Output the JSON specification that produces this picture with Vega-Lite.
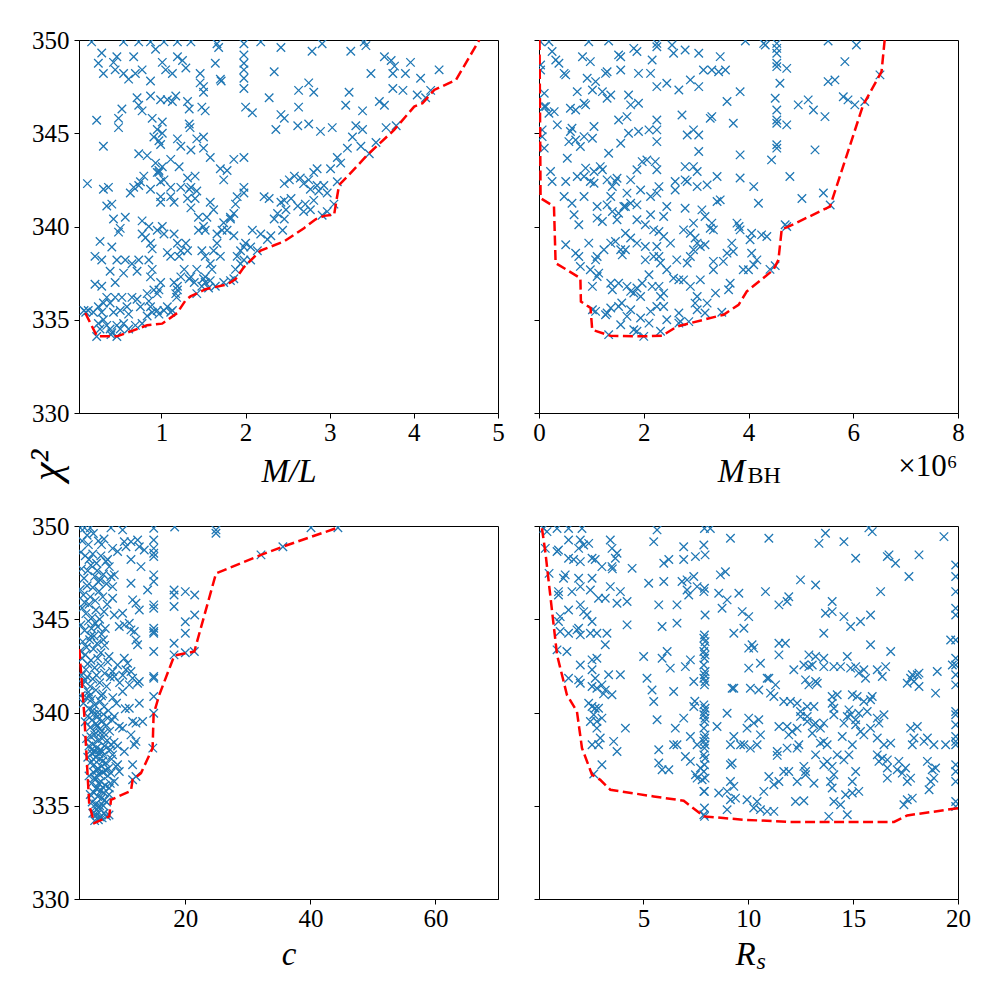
{
  "$schema": "https://vega.github.io/schema/vega-lite/v6.json",
  "padding": {"left": 24, "top": 27, "right": 10, "bottom": 10},
  "columns": 2,
  "spacing": {"row": 113, "column": 41},
  "bounds": "flush",
  "config": {
    "font": "'Liberation Serif', serif",
    "view": {"stroke": "black", "strokeWidth": 1},
    "axis": {
      "grid": false,
      "domainColor": "black",
      "domainWidth": 1,
      "tickColor": "black",
      "tickWidth": 1,
      "tickSize": 5,
      "labelFont": "'Liberation Serif', serif",
      "labelFontSize": 25,
      "labelColor": "black",
      "labelPadding": 5,
      "labelFlush": false,
      "labelOverlap": false,
      "titleFont": "'Liberation Serif', serif",
      "titleFontWeight": "normal",
      "titleColor": "black"
    },
    "axisX": {"labelPadding": 2}
  },
  "datasets": {
    "tl_pts": [
      {"ML":0.17,"chi2":349.9},{"ML":0.55,"chi2":349.9},{"ML":0.73,"chi2":349.9},{"ML":0.87,"chi2":349.9},{"ML":1.03,"chi2":349.9},{"ML":1.19,"chi2":349.9},{"ML":1.35,"chi2":349.9},{"ML":1.66,"chi2":349.8},{"ML":1.68,"chi2":349.6},{"ML":1.98,"chi2":349.8},{"ML":2.18,"chi2":349.9},{"ML":2.42,"chi2":349.6},{"ML":2.91,"chi2":349.8},{"ML":3.41,"chi2":349.9},{"ML":3.43,"chi2":349.7},
      {"ML":0.29,"chi2":349.3},{"ML":0.25,"chi2":348.75},{"ML":0.43,"chi2":348.8},{"ML":0.47,"chi2":349.1},{"ML":0.67,"chi2":349.1},{"ML":0.31,"chi2":348.2},{"ML":0.45,"chi2":348.4},{"ML":0.55,"chi2":348.2},{"ML":0.61,"chi2":347.9},{"ML":0.69,"chi2":348.2},{"ML":0.77,"chi2":348.4},{"ML":0.87,"chi2":347.8},{"ML":0.93,"chi2":349.5},{"ML":1.01,"chi2":348.8},{"ML":1.05,"chi2":348.4},{"ML":1.13,"chi2":348.2},{"ML":1.19,"chi2":349.1},{"ML":1.25,"chi2":348.9},{"ML":1.29,"chi2":348.5},{"ML":1.46,"chi2":348.2},{"ML":1.46,"chi2":347.7},{"ML":1.5,"chi2":347.2},{"ML":1.64,"chi2":348.75},{"ML":1.7,"chi2":347.9},{"ML":1.71,"chi2":347.8},
      {"ML":1.98,"chi2":349.2},{"ML":1.98,"chi2":348.75},{"ML":1.98,"chi2":348.4},{"ML":1.98,"chi2":347.95},{"ML":1.98,"chi2":347.4},{"ML":2.0,"chi2":346.4},{"ML":2.08,"chi2":346.1},{"ML":2.28,"chi2":346.9},{"ML":2.34,"chi2":348.3},{"ML":2.79,"chi2":349.4},{"ML":2.63,"chi2":347.3},{"ML":2.75,"chi2":347.7},{"ML":2.81,"chi2":347.2},{"ML":2.63,"chi2":346.4},{"ML":2.42,"chi2":346.0},{"ML":2.46,"chi2":345.8},{"ML":2.36,"chi2":345.2},{"ML":2.62,"chi2":345.4},{"ML":2.75,"chi2":345.5},{"ML":2.89,"chi2":345.1},{"ML":3.03,"chi2":345.3},{"ML":3.19,"chi2":346.5},{"ML":3.25,"chi2":349.4},{"ML":3.23,"chi2":347.2},{"ML":3.49,"chi2":348.2},{"ML":3.65,"chi2":349.1},{"ML":3.73,"chi2":348.9},{"ML":3.77,"chi2":348.6},{"ML":3.75,"chi2":348.2},{"ML":3.75,"chi2":347.4},{"ML":3.87,"chi2":347.3},{"ML":3.9,"chi2":348.2},{"ML":3.96,"chi2":348.8},{"ML":4.08,"chi2":347.95},{"ML":4.04,"chi2":347.05},{"ML":4.14,"chi2":346.9},{"ML":4.3,"chi2":348.4},{"ML":4.2,"chi2":347.3},
      {"ML":3.39,"chi2":346.2},{"ML":3.31,"chi2":345.4},{"ML":3.39,"chi2":345.2},{"ML":3.27,"chi2":344.8},{"ML":3.21,"chi2":344.2},{"ML":3.37,"chi2":344.3},{"ML":3.47,"chi2":343.9},{"ML":3.55,"chi2":344.5},{"ML":3.59,"chi2":346.7},{"ML":3.65,"chi2":346.5},{"ML":3.67,"chi2":345.3},{"ML":3.79,"chi2":345.4},
      {"ML":0.23,"chi2":345.7},{"ML":0.49,"chi2":345.8},{"ML":0.49,"chi2":345.3},{"ML":0.53,"chi2":346.3},{"ML":0.31,"chi2":344.3},{"ML":0.71,"chi2":346.9},{"ML":0.73,"chi2":346.5},{"ML":0.77,"chi2":346.2},{"ML":0.87,"chi2":347.0},{"ML":0.89,"chi2":345.8},{"ML":0.99,"chi2":346.8},{"ML":1.01,"chi2":345.6},{"ML":0.91,"chi2":344.8},{"ML":0.95,"chi2":345.2},{"ML":0.97,"chi2":344.6},{"ML":0.99,"chi2":344.4},{"ML":1.01,"chi2":345.0},{"ML":1.07,"chi2":346.8},{"ML":1.13,"chi2":346.7},{"ML":1.17,"chi2":347.0},{"ML":1.19,"chi2":344.7},{"ML":1.23,"chi2":344.3},{"ML":1.31,"chi2":346.7},{"ML":1.33,"chi2":346.3},{"ML":1.33,"chi2":345.5},{"ML":1.34,"chi2":345.3},{"ML":1.35,"chi2":344.1},{"ML":1.42,"chi2":344.7},{"ML":1.5,"chi2":344.8},{"ML":1.5,"chi2":344.2},{"ML":1.48,"chi2":346.4},{"ML":1.52,"chi2":346.2},{"ML":1.58,"chi2":343.7},{"ML":1.5,"chi2":347.5},{"ML":1.21,"chi2":343.2},{"ML":1.11,"chi2":343.6},{"ML":0.97,"chi2":343.0},{"ML":1.01,"chi2":343.2},{"ML":0.97,"chi2":342.9},{"ML":0.73,"chi2":343.9},{"ML":0.83,"chi2":343.8},{"ML":0.79,"chi2":342.7},{"ML":0.75,"chi2":342.4},{"ML":0.73,"chi2":342.2},{"ML":0.63,"chi2":341.8},{"ML":0.67,"chi2":342.1},{"ML":0.57,"chi2":340.5},{"ML":0.41,"chi2":341.2},{"ML":0.43,"chi2":340.4},{"ML":0.35,"chi2":341.1},{"ML":0.31,"chi2":342.0},{"ML":0.37,"chi2":342.1},{"ML":0.49,"chi2":339.7},{"ML":0.51,"chi2":339.9},{"ML":0.41,"chi2":338.9},{"ML":0.27,"chi2":339.2},{"ML":0.12,"chi2":342.3},{"ML":0.21,"chi2":338.4},{"ML":0.29,"chi2":338.2},{"ML":0.21,"chi2":336.9},{"ML":0.29,"chi2":336.8},{"ML":0.39,"chi2":337.6},{"ML":0.45,"chi2":337.0},{"ML":0.55,"chi2":337.5},{"ML":0.47,"chi2":338.2},{"ML":0.57,"chi2":338.2},{"ML":0.65,"chi2":338.0},{"ML":0.73,"chi2":338.2},{"ML":0.71,"chi2":337.6},{"ML":0.77,"chi2":339.6},{"ML":0.81,"chi2":339.4},{"ML":0.77,"chi2":340.3},{"ML":0.85,"chi2":340.0},{"ML":0.87,"chi2":339.1},{"ML":0.89,"chi2":338.8},{"ML":0.85,"chi2":338.2},{"ML":0.89,"chi2":337.7},{"ML":0.87,"chi2":337.3},{"ML":0.95,"chi2":339.8},{"ML":1.01,"chi2":340.0},{"ML":1.03,"chi2":339.6},{"ML":0.97,"chi2":336.6},{"ML":0.99,"chi2":337.0},{"ML":1.07,"chi2":338.6},{"ML":1.11,"chi2":338.4},{"ML":1.15,"chi2":339.6},{"ML":1.19,"chi2":339.1},{"ML":1.21,"chi2":338.4},{"ML":1.23,"chi2":338.7},{"ML":1.19,"chi2":336.8},{"ML":1.17,"chi2":336.4},{"ML":1.18,"chi2":336.2},{"ML":1.29,"chi2":339.1},{"ML":1.31,"chi2":338.7},{"ML":1.35,"chi2":337.3},{"ML":1.42,"chi2":337.7},{"ML":1.44,"chi2":339.8},{"ML":1.48,"chi2":338.7},{"ML":1.5,"chi2":340.0},{"ML":1.52,"chi2":338.4},{"ML":1.58,"chi2":338.0},{"ML":1.6,"chi2":337.7},{"ML":1.5,"chi2":337.2},{"ML":1.52,"chi2":337.0},{"ML":1.58,"chi2":337.1},{"ML":1.62,"chi2":338.7},{"ML":1.66,"chi2":339.1},{"ML":1.7,"chi2":338.4},{"ML":1.74,"chi2":340.2},{"ML":1.78,"chi2":339.8},{"ML":1.82,"chi2":340.4},{"ML":1.86,"chi2":340.7},{"ML":1.86,"chi2":339.5},{"ML":1.9,"chi2":338.4},{"ML":1.94,"chi2":338.7},{"ML":1.98,"chi2":338.9},{"ML":2.0,"chi2":339.1},{"ML":2.06,"chi2":338.9},{"ML":2.08,"chi2":339.8},{"ML":2.18,"chi2":339.6},{"ML":2.22,"chi2":341.6},{"ML":2.28,"chi2":341.5},{"ML":2.26,"chi2":339.3},{"ML":2.3,"chi2":339.5},{"ML":2.34,"chi2":340.4},{"ML":2.38,"chi2":340.7},{"ML":2.42,"chi2":341.3},{"ML":2.46,"chi2":341.4},{"ML":2.46,"chi2":342.3},{"ML":2.52,"chi2":342.5},{"ML":2.48,"chi2":340.9},{"ML":2.46,"chi2":340.4},{"ML":2.44,"chi2":339.8},{"ML":2.54,"chi2":341.5},{"ML":2.58,"chi2":342.7},{"ML":2.65,"chi2":342.6},{"ML":2.69,"chi2":342.3},{"ML":2.75,"chi2":342.5},{"ML":2.77,"chi2":342.0},{"ML":2.81,"chi2":342.9},{"ML":2.85,"chi2":343.1},{"ML":2.71,"chi2":341.2},{"ML":2.69,"chi2":340.8},{"ML":2.77,"chi2":340.9},{"ML":2.85,"chi2":342.2},{"ML":2.87,"chi2":341.9},{"ML":2.93,"chi2":342.2},{"ML":2.97,"chi2":341.8},{"ML":3.01,"chi2":343.1},{"ML":3.09,"chi2":343.7},{"ML":3.13,"chi2":343.4},{"ML":3.09,"chi2":342.4},{"ML":3.05,"chi2":341.2},{"ML":2.97,"chi2":340.8},{"ML":2.91,"chi2":340.6},{"ML":2.81,"chi2":341.4},{"ML":2.62,"chi2":341.1},
      {"ML":1.7,"chi2":343.1},{"ML":1.78,"chi2":343.0},{"ML":1.74,"chi2":342.5},{"ML":1.86,"chi2":343.6},{"ML":1.98,"chi2":343.7},{"ML":1.98,"chi2":342.1},{"ML":1.98,"chi2":341.8},{"ML":1.9,"chi2":341.6},{"ML":1.88,"chi2":341.2},{"ML":1.82,"chi2":340.5},{"ML":1.72,"chi2":339.8},{"ML":1.66,"chi2":339.6},{"ML":1.54,"chi2":340.5},{"ML":1.52,"chi2":339.8},{"ML":1.58,"chi2":341.3},{"ML":1.62,"chi2":340.9},{"ML":1.35,"chi2":342.1},{"ML":1.33,"chi2":342.0},{"ML":1.31,"chi2":341.5},{"ML":1.35,"chi2":341.0},{"ML":1.4,"chi2":341.5},{"ML":1.44,"chi2":340.5},{"ML":0.99,"chi2":341.6},{"ML":0.99,"chi2":341.3},{"ML":1.11,"chi2":341.6},{"ML":1.15,"chi2":341.3},{"ML":0.99,"chi2":342.4},{"ML":1.03,"chi2":342.5},{"ML":1.11,"chi2":342.1},{"ML":0.93,"chi2":343.4},{"ML":0.95,"chi2":342.9},{"ML":1.31,"chi2":342.6},{"ML":1.4,"chi2":342.7},{"ML":1.42,"chi2":341.9},{"ML":1.23,"chi2":342.1},{"ML":0.87,"chi2":342.0},
      {"ML":0.08,"chi2":335.5},{"ML":0.13,"chi2":335.5},{"ML":0.19,"chi2":335.4},{"ML":0.25,"chi2":335.7},{"ML":0.29,"chi2":335.4},{"ML":0.31,"chi2":335.0},{"ML":0.25,"chi2":334.8},{"ML":0.27,"chi2":334.5},{"ML":0.35,"chi2":334.7},{"ML":0.39,"chi2":334.5},{"ML":0.41,"chi2":334.3},{"ML":0.47,"chi2":334.7},{"ML":0.51,"chi2":334.5},{"ML":0.55,"chi2":334.8},{"ML":0.61,"chi2":334.5},{"ML":0.69,"chi2":334.7},{"ML":0.77,"chi2":334.8},{"ML":0.83,"chi2":335.2},{"ML":0.89,"chi2":335.4},{"ML":0.95,"chi2":335.5},{"ML":0.97,"chi2":335.3},{"ML":1.03,"chi2":335.5},{"ML":1.07,"chi2":335.7},{"ML":1.11,"chi2":335.4},{"ML":1.13,"chi2":335.5},{"ML":0.61,"chi2":335.3},{"ML":0.59,"chi2":335.7},{"ML":0.51,"chi2":335.5},{"ML":0.43,"chi2":335.4},{"ML":0.39,"chi2":335.9},{"ML":0.45,"chi2":336.2},{"ML":0.31,"chi2":335.9},{"ML":0.35,"chi2":336.2},{"ML":0.53,"chi2":336.2},{"ML":0.65,"chi2":336.2},{"ML":0.71,"chi2":336.1},{"ML":0.75,"chi2":335.7},{"ML":0.83,"chi2":336.4},{"ML":0.91,"chi2":336.6},{"ML":0.95,"chi2":336.4},{"ML":0.85,"chi2":336.0},{"ML":0.87,"chi2":335.7},{"ML":1.15,"chi2":337.0},{"ML":1.19,"chi2":336.6},{"ML":1.23,"chi2":337.3},{"ML":1.27,"chi2":337.7},{"ML":1.33,"chi2":337.2},{"ML":1.39,"chi2":337.0},{"ML":1.42,"chi2":336.4},{"ML":1.48,"chi2":336.8},{"ML":1.52,"chi2":337.3},{"ML":1.56,"chi2":336.7},{"ML":1.64,"chi2":336.8},{"ML":1.74,"chi2":337.0},{"ML":1.82,"chi2":337.1},{"ML":1.86,"chi2":337.2},{"ML":1.88,"chi2":337.7},{"ML":1.94,"chi2":338.0},{"ML":1.98,"chi2":338.2},{"ML":2.06,"chi2":338.2},{"ML":2.14,"chi2":338.7},{"ML":0.23,"chi2":334.1},{"ML":0.4,"chi2":334.2},{"ML":0.47,"chi2":334.1},{"ML":0.1,"chi2":335.4}
    ],
    "tl_line": [
      {"ML":0.095,"chi2":335.36},{"ML":0.234,"chi2":334.11},{"ML":0.472,"chi2":334.11},{"ML":0.829,"chi2":334.7},{"ML":1.008,"chi2":334.79},{"ML":1.187,"chi2":335.36},{"ML":1.286,"chi2":336.04},{"ML":1.345,"chi2":336.25},{"ML":1.524,"chi2":336.64},{"ML":1.782,"chi2":336.89},{"ML":1.881,"chi2":337.18},{"ML":1.98,"chi2":337.82},{"ML":2.179,"chi2":338.71},{"ML":2.456,"chi2":339.2},{"ML":2.694,"chi2":339.91},{"ML":2.833,"chi2":340.39},{"ML":2.933,"chi2":340.57},{"ML":3.052,"chi2":340.63},{"ML":3.111,"chi2":342.23},{"ML":3.21,"chi2":342.68},{"ML":3.448,"chi2":343.84},{"ML":3.766,"chi2":345.18},{"ML":4.004,"chi2":346.43},{"ML":4.103,"chi2":346.61},{"ML":4.242,"chi2":347.32},{"ML":4.5,"chi2":347.86},{"ML":4.778,"chi2":350.0}
    ],
    "tr_pts": [
      {"MBH":0.03,"chi2":349.91},{"MBH":0.19,"chi2":349.91},{"MBH":0.95,"chi2":349.91},{"MBH":1.33,"chi2":349.95},{"MBH":2.25,"chi2":349.82},{"MBH":2.25,"chi2":349.64},{"MBH":2.54,"chi2":349.73},{"MBH":2.57,"chi2":349.29},{"MBH":2.79,"chi2":349.46},{"MBH":3.05,"chi2":349.29},{"MBH":3.94,"chi2":349.95},{"MBH":4.29,"chi2":349.82},{"MBH":4.32,"chi2":349.73},{"MBH":4.54,"chi2":349.82},{"MBH":4.54,"chi2":349.55},{"MBH":4.54,"chi2":349.29},{"MBH":5.52,"chi2":349.95},{"MBH":6.06,"chi2":349.73},{"MBH":1.81,"chi2":349.55},{"MBH":1.87,"chi2":349.38},{"MBH":1.52,"chi2":349.2},{"MBH":1.56,"chi2":349.1},{"MBH":0.83,"chi2":349.1},{"MBH":0.98,"chi2":348.84},{"MBH":0.25,"chi2":349.38},{"MBH":0.32,"chi2":348.93},{"MBH":0.38,"chi2":348.75},{"MBH":0.03,"chi2":348.66},{"MBH":0.03,"chi2":348.39},{"MBH":0.48,"chi2":348.21},{"MBH":0.51,"chi2":348.13},{"MBH":0.92,"chi2":347.95},{"MBH":1.08,"chi2":347.77},{"MBH":1.27,"chi2":348.21},{"MBH":1.3,"chi2":348.3},{"MBH":1.56,"chi2":348.39},{"MBH":1.9,"chi2":348.21},{"MBH":2.13,"chi2":348.21},{"MBH":2.16,"chi2":348.93},{"MBH":2.25,"chi2":347.5},{"MBH":2.44,"chi2":347.68},{"MBH":2.67,"chi2":347.32},{"MBH":2.89,"chi2":347.86},{"MBH":3.05,"chi2":347.5},{"MBH":3.14,"chi2":348.39},{"MBH":3.3,"chi2":348.39},{"MBH":3.43,"chi2":348.3},{"MBH":3.56,"chi2":348.39},{"MBH":3.46,"chi2":349.11},{"MBH":3.84,"chi2":347.23},{"MBH":3.59,"chi2":346.7},
      {"MBH":4.54,"chi2":348.75},{"MBH":4.54,"chi2":348.57},{"MBH":4.73,"chi2":348.48},{"MBH":4.6,"chi2":347.68},{"MBH":4.51,"chi2":346.88},{"MBH":4.54,"chi2":346.25},{"MBH":4.54,"chi2":345.71},{"MBH":4.54,"chi2":345.54},{"MBH":4.73,"chi2":345.45},{"MBH":4.54,"chi2":344.38},{"MBH":4.54,"chi2":344.2},{"MBH":4.44,"chi2":343.57},{"MBH":4.95,"chi2":346.52},{"MBH":5.14,"chi2":346.79},{"MBH":5.24,"chi2":346.25},{"MBH":5.46,"chi2":345.89},{"MBH":5.27,"chi2":344.11},{"MBH":5.52,"chi2":347.77},{"MBH":5.65,"chi2":347.86},{"MBH":5.84,"chi2":348.84},{"MBH":5.81,"chi2":346.96},{"MBH":5.9,"chi2":346.79},{"MBH":6.03,"chi2":346.52},{"MBH":6.22,"chi2":346.7},{"MBH":6.51,"chi2":348.13},
      {"MBH":3.84,"chi2":343.84},{"MBH":3.71,"chi2":345.54},{"MBH":3.27,"chi2":345.8},{"MBH":3.3,"chi2":345.89},{"MBH":2.73,"chi2":345.98},{"MBH":2.83,"chi2":344.91},{"MBH":2.95,"chi2":345.18},{"MBH":3.05,"chi2":344.91},{"MBH":3.05,"chi2":344.02},{"MBH":2.79,"chi2":343.21},{"MBH":2.95,"chi2":343.21},{"MBH":3.02,"chi2":342.95},{"MBH":2.25,"chi2":345.71},{"MBH":2.25,"chi2":345.18},{"MBH":2.25,"chi2":344.55},{"MBH":2.1,"chi2":345.18},{"MBH":1.9,"chi2":345.09},{"MBH":1.71,"chi2":345.0},{"MBH":1.68,"chi2":345.89},{"MBH":1.75,"chi2":346.52},{"MBH":1.52,"chi2":345.71},{"MBH":1.56,"chi2":344.46},{"MBH":1.33,"chi2":343.93},{"MBH":1.71,"chi2":347.05},{"MBH":1.9,"chi2":346.61},{"MBH":1.37,"chi2":347.05},{"MBH":1.3,"chi2":346.88},{"MBH":1.21,"chi2":347.23},{"MBH":1.02,"chi2":347.32},{"MBH":0.73,"chi2":347.23},{"MBH":0.86,"chi2":346.61},{"MBH":0.89,"chi2":346.52},{"MBH":0.6,"chi2":346.34},{"MBH":0.7,"chi2":346.25},{"MBH":0.13,"chi2":346.43},{"MBH":0.19,"chi2":346.07},{"MBH":0.1,"chi2":347.14},{"MBH":0.1,"chi2":346.43},{"MBH":0.29,"chi2":346.16},{"MBH":0.35,"chi2":345.45},{"MBH":0.63,"chi2":345.27},{"MBH":0.6,"chi2":345.09},{"MBH":0.7,"chi2":344.64},{"MBH":0.79,"chi2":344.29},{"MBH":0.86,"chi2":344.82},{"MBH":1.02,"chi2":344.73},{"MBH":1.05,"chi2":345.36},{"MBH":0.57,"chi2":344.55},{"MBH":0.54,"chi2":343.66},{"MBH":0.06,"chi2":345.18},{"MBH":0.06,"chi2":344.82},{"MBH":0.1,"chi2":344.2},
      {"MBH":0.22,"chi2":342.95},{"MBH":0.25,"chi2":342.41},{"MBH":0.51,"chi2":342.41},{"MBH":0.73,"chi2":342.68},{"MBH":0.86,"chi2":342.68},{"MBH":0.89,"chi2":343.13},{"MBH":1.05,"chi2":342.95},{"MBH":1.17,"chi2":343.21},{"MBH":1.21,"chi2":343.04},{"MBH":0.98,"chi2":342.41},{"MBH":0.86,"chi2":341.61},{"MBH":0.63,"chi2":341.25},{"MBH":0.67,"chi2":340.63},{"MBH":0.76,"chi2":340.09},{"MBH":0.48,"chi2":341.61},{"MBH":1.05,"chi2":342.32},{"MBH":1.3,"chi2":342.5},{"MBH":1.4,"chi2":342.14},{"MBH":1.46,"chi2":342.41},{"MBH":1.49,"chi2":342.59},{"MBH":1.68,"chi2":341.79},{"MBH":1.75,"chi2":342.5},{"MBH":1.87,"chi2":343.04},{"MBH":1.97,"chi2":343.48},{"MBH":2.06,"chi2":343.57},{"MBH":2.22,"chi2":343.48},{"MBH":2.25,"chi2":343.04},{"MBH":2.29,"chi2":342.14},{"MBH":2.25,"chi2":341.79},{"MBH":2.13,"chi2":341.61},{"MBH":1.94,"chi2":341.96},{"MBH":1.75,"chi2":341.25},{"MBH":1.65,"chi2":341.07},{"MBH":1.49,"chi2":340.36},{"MBH":1.37,"chi2":341.61},{"MBH":1.3,"chi2":341.16},{"MBH":1.11,"chi2":341.07},{"MBH":1.11,"chi2":340.45},{"MBH":1.21,"chi2":340.27},{"MBH":1.4,"chi2":340.8},{"MBH":1.52,"chi2":340.71},{"MBH":1.62,"chi2":341.07},{"MBH":1.87,"chi2":341.16},{"MBH":1.87,"chi2":340.36},{"MBH":2.03,"chi2":340.09},{"MBH":2.13,"chi2":340.63},{"MBH":2.19,"chi2":339.82},{"MBH":2.29,"chi2":339.73},{"MBH":2.38,"chi2":340.54},{"MBH":2.44,"chi2":341.07},{"MBH":2.6,"chi2":341.96},{"MBH":2.6,"chi2":342.41},{"MBH":2.79,"chi2":342.5},{"MBH":2.83,"chi2":342.41},{"MBH":3.02,"chi2":342.14},{"MBH":3.21,"chi2":342.23},{"MBH":3.4,"chi2":342.68},{"MBH":3.4,"chi2":341.34},{"MBH":3.46,"chi2":341.43},{"MBH":3.17,"chi2":340.54},{"MBH":3.11,"chi2":340.89},{"MBH":2.95,"chi2":340.18},{"MBH":2.79,"chi2":340.98},{"MBH":2.76,"chi2":339.82},{"MBH":2.89,"chi2":339.64},{"MBH":2.98,"chi2":339.38},{"MBH":3.02,"chi2":339.11},{"MBH":3.08,"chi2":338.93},{"MBH":3.17,"chi2":339.02},{"MBH":3.27,"chi2":339.91},{"MBH":3.3,"chi2":340.18},{"MBH":3.33,"chi2":339.82},{"MBH":2.95,"chi2":338.75},{"MBH":2.89,"chi2":338.39},{"MBH":2.83,"chi2":338.04},{"MBH":2.63,"chi2":338.21},{"MBH":2.51,"chi2":339.11},{"MBH":2.38,"chi2":339.46},{"MBH":2.25,"chi2":338.93},{"MBH":2.29,"chi2":338.39},{"MBH":2.32,"chi2":338.04},{"MBH":2.19,"chi2":338.39},{"MBH":2.03,"chi2":338.21},{"MBH":2.03,"chi2":338.93},{"MBH":1.87,"chi2":339.11},{"MBH":1.75,"chi2":339.38},{"MBH":1.65,"chi2":339.64},{"MBH":1.65,"chi2":338.75},{"MBH":1.59,"chi2":338.48},{"MBH":1.56,"chi2":338.75},{"MBH":1.46,"chi2":339.2},{"MBH":1.37,"chi2":339.11},{"MBH":1.24,"chi2":338.75},{"MBH":1.11,"chi2":338.39},{"MBH":1.08,"chi2":338.21},{"MBH":0.95,"chi2":339.11},{"MBH":0.76,"chi2":338.39},{"MBH":0.7,"chi2":338.57},{"MBH":0.51,"chi2":339.02},
      {"MBH":0.79,"chi2":337.86},{"MBH":0.98,"chi2":337.68},{"MBH":1.02,"chi2":336.79},{"MBH":1.11,"chi2":337.32},{"MBH":1.14,"chi2":337.5},{"MBH":1.37,"chi2":336.96},{"MBH":1.4,"chi2":336.61},{"MBH":1.52,"chi2":336.96},{"MBH":1.68,"chi2":336.79},{"MBH":1.75,"chi2":336.52},{"MBH":1.87,"chi2":336.7},{"MBH":1.81,"chi2":336.43},{"MBH":1.94,"chi2":336.25},{"MBH":1.97,"chi2":336.96},{"MBH":2.1,"chi2":337.41},{"MBH":2.16,"chi2":336.79},{"MBH":2.29,"chi2":336.79},{"MBH":2.32,"chi2":336.25},{"MBH":2.38,"chi2":336.43},{"MBH":2.44,"chi2":337.68},{"MBH":2.57,"chi2":337.23},{"MBH":2.67,"chi2":337.14},{"MBH":2.76,"chi2":337.14},{"MBH":2.89,"chi2":336.79},{"MBH":3.02,"chi2":336.25},{"MBH":2.98,"chi2":335.89},{"MBH":3.08,"chi2":337.14},{"MBH":3.33,"chi2":338.13},{"MBH":3.33,"chi2":337.68},{"MBH":3.52,"chi2":338.13},{"MBH":3.59,"chi2":338.57},{"MBH":3.71,"chi2":338.66},{"MBH":3.68,"chi2":339.11},{"MBH":3.78,"chi2":340.18},{"MBH":3.82,"chi2":340.0},{"MBH":3.84,"chi2":339.82},{"MBH":4.03,"chi2":339.29},{"MBH":4.06,"chi2":339.64},{"MBH":4.06,"chi2":338.57},{"MBH":4.16,"chi2":338.21},{"MBH":4.25,"chi2":339.55},{"MBH":4.35,"chi2":339.46},{"MBH":3.9,"chi2":337.68},{"MBH":4.0,"chi2":337.68},{"MBH":3.65,"chi2":336.96},{"MBH":3.62,"chi2":336.61},{"MBH":3.37,"chi2":336.43},{"MBH":3.02,"chi2":335.54},{"MBH":2.67,"chi2":335.36},{"MBH":2.67,"chi2":334.82},{"MBH":2.44,"chi2":335.0},{"MBH":2.32,"chi2":334.38},{"MBH":2.1,"chi2":334.82},{"MBH":2.0,"chi2":334.11},{"MBH":1.81,"chi2":334.46},{"MBH":1.87,"chi2":334.38},{"MBH":1.68,"chi2":335.18},{"MBH":1.56,"chi2":334.73},{"MBH":1.52,"chi2":335.71},{"MBH":1.37,"chi2":335.63},{"MBH":1.3,"chi2":335.36},{"MBH":1.27,"chi2":335.27},{"MBH":1.08,"chi2":335.45},{"MBH":1.02,"chi2":335.54},{"MBH":1.33,"chi2":334.2},{"MBH":1.58,"chi2":335.9},{"MBH":1.75,"chi2":335.54},{"MBH":2.13,"chi2":335.45},{"MBH":1.94,"chi2":335.09},{"MBH":2.25,"chi2":335.71},{"MBH":2.38,"chi2":335.71},{"MBH":2.7,"chi2":334.91},{"MBH":2.86,"chi2":334.9},{"MBH":3.17,"chi2":335.36},{"MBH":3.21,"chi2":335.89},{"MBH":3.49,"chi2":335.4},{"MBH":4.51,"chi2":337.9},{"MBH":4.41,"chi2":337.7},{"MBH":4.73,"chi2":340.0},{"MBH":4.7,"chi2":340.09},{"MBH":4.1,"chi2":337.95},{"MBH":5.02,"chi2":341.5},{"MBH":5.43,"chi2":341.8},{"MBH":5.56,"chi2":341.15},{"MBH":4.19,"chi2":341.25},{"MBH":4.1,"chi2":342.14},{"MBH":3.84,"chi2":342.6},{"MBH":4.79,"chi2":342.68}
    ],
    "tr_line": [
      {"MBH":0.01,"chi2":350},{"MBH":0.03,"chi2":341.52},{"MBH":0.286,"chi2":341.07},{"MBH":0.317,"chi2":338.04},{"MBH":0.79,"chi2":337.23},{"MBH":0.8,"chi2":335.98},{"MBH":0.984,"chi2":335.63},{"MBH":1.016,"chi2":334.46},{"MBH":1.365,"chi2":334.14},{"MBH":2.0,"chi2":334.11},{"MBH":2.349,"chi2":334.14},{"MBH":2.635,"chi2":334.64},{"MBH":3.524,"chi2":335.27},{"MBH":3.81,"chi2":335.8},{"MBH":3.968,"chi2":336.52},{"MBH":4.476,"chi2":337.68},{"MBH":4.571,"chi2":338.21},{"MBH":4.635,"chi2":339.87},{"MBH":4.73,"chi2":339.95},{"MBH":5.556,"chi2":341.07},{"MBH":6.19,"chi2":346.52},{"MBH":6.54,"chi2":348.3},{"MBH":6.6,"chi2":350}
    ],
    "bl_pts": [
      {"c":14.95,"chi2":349.88},{"c":14.95,"chi2":349.25},{"c":14.95,"chi2":348.8},{"c":14.95,"chi2":348.54},{"c":14.95,"chi2":348.36},{"c":14.95,"chi2":347.38},{"c":14.95,"chi2":347.02},{"c":14.95,"chi2":345.77},{"c":14.95,"chi2":345.59},{"c":14.95,"chi2":344.52},{"c":14.95,"chi2":344.34},{"c":14.95,"chi2":344.25},{"c":14.95,"chi2":343.27},{"c":14.95,"chi2":341.93},{"c":14.95,"chi2":341.84},{"c":14.95,"chi2":340.86},{"c":14.95,"chi2":339.96},{"c":14.8,"chi2":338.09},
      {"c":18.2,"chi2":346.57},{"c":18.2,"chi2":346.3},{"c":18.2,"chi2":345.68},{"c":18.2,"chi2":343.71},{"c":18.2,"chi2":343.09},{"c":18.3,"chi2":349.95},{"c":20.0,"chi2":346.48},{"c":20.0,"chi2":344.87},{"c":20.0,"chi2":344.25},{"c":20.0,"chi2":343.2},{"c":21.44,"chi2":343.27},{"c":21.5,"chi2":346.3},{"c":21.5,"chi2":345.23},{"c":24.9,"chi2":349.79},{"c":24.9,"chi2":349.61},{"c":32.1,"chi2":348.45},{"c":35.6,"chi2":348.89},{"c":40.1,"chi2":349.91},{"c":44.4,"chi2":349.91},
      {"c":8.11,"chi2":349.9},{"c":9.97,"chi2":349.79},{"c":10.24,"chi2":349.16},{"c":10.51,"chi2":348.89},{"c":11.31,"chi2":349.16},{"c":12.37,"chi2":349.25},{"c":12.64,"chi2":348.89},{"c":13.44,"chi2":348.71},{"c":11.31,"chi2":348.2},{"c":12.91,"chi2":347.82},{"c":13.97,"chi2":346.57},{"c":11.31,"chi2":346.93},{"c":11.57,"chi2":346.04},{"c":12.11,"chi2":345.86},{"c":12.64,"chi2":345.5},{"c":9.97,"chi2":345.32},{"c":10.24,"chi2":344.7},{"c":11.04,"chi2":344.79},{"c":11.31,"chi2":344.43},{"c":11.84,"chi2":344.34},{"c":12.11,"chi2":343.89},{"c":12.37,"chi2":343.63},{"c":9.44,"chi2":344.61},{"c":8.64,"chi2":345.23},{"c":8.37,"chi2":346.13},{"c":8.37,"chi2":346.75},{"c":8.11,"chi2":347.29},{"c":8.64,"chi2":347.38},{"c":7.84,"chi2":347.82},{"c":7.57,"chi2":348.2},{"c":8.37,"chi2":348.8},{"c":9.17,"chi2":348.63},{"c":10.24,"chi2":342.91},{"c":10.77,"chi2":342.64},{"c":11.31,"chi2":342.2},{"c":11.57,"chi2":341.84},{"c":12.37,"chi2":341.57},{"c":12.64,"chi2":341.66},{"c":11.04,"chi2":341.48},{"c":9.97,"chi2":341.13},{"c":10.51,"chi2":342.29},{"c":9.17,"chi2":342.55},{"c":8.64,"chi2":341.93},{"c":8.37,"chi2":342.2},{"c":11.04,"chi2":340.23},{"c":11.57,"chi2":339.52},{"c":12.11,"chi2":339.43},{"c":12.64,"chi2":340.5},{"c":13.17,"chi2":339.52},{"c":11.31,"chi2":338.8},{"c":12.11,"chi2":338.45},{"c":11.84,"chi2":338.27},{"c":10.24,"chi2":337.91},{"c":11.57,"chi2":337.2},{"c":9.17,"chi2":337.2},{"c":9.44,"chi2":336.84},{"c":8.91,"chi2":337.11},{"c":9.44,"chi2":339.25},{"c":8.64,"chi2":339.79},{"c":9.97,"chi2":339.16},{"c":9.17,"chi2":338.2},{"c":8.11,"chi2":338.27},{"c":8.37,"chi2":337.73},{"c":8.64,"chi2":336.3},{"c":8.11,"chi2":336.75},{"c":7.84,"chi2":335.95},{"c":11.57,"chi2":336.39},{"c":12.11,"chi2":336.57},
      {"c":3.2,"chi2":349.9},{"c":3.5,"chi2":349.2},{"c":3.9,"chi2":349.9},{"c":4.3,"chi2":349.5},{"c":4.8,"chi2":349.9},{"c":5.3,"chi2":349.6},{"c":6.1,"chi2":349.2},{"c":6.6,"chi2":349.0},{"c":7.0,"chi2":349.3},{"c":3.3,"chi2":348.6},{"c":4.0,"chi2":348.4},{"c":4.6,"chi2":348.2},{"c":5.2,"chi2":348.5},{"c":5.8,"chi2":348.0},{"c":6.5,"chi2":348.4},{"c":7.3,"chi2":348.1},{"c":3.4,"chi2":347.7},{"c":3.8,"chi2":347.2},{"c":4.4,"chi2":347.6},{"c":4.9,"chi2":347.9},{"c":5.5,"chi2":347.3},{"c":5.9,"chi2":347.6},{"c":6.4,"chi2":347.1},{"c":6.9,"chi2":347.4},{"c":7.4,"chi2":346.9},{"c":3.2,"chi2":346.6},{"c":3.7,"chi2":346.3},{"c":4.3,"chi2":346.8},{"c":4.8,"chi2":346.2},{"c":5.2,"chi2":346.7},{"c":5.6,"chi2":346.0},{"c":6.2,"chi2":346.5},{"c":6.8,"chi2":346.2},{"c":7.5,"chi2":345.8},{"c":3.5,"chi2":345.6},{"c":4.1,"chi2":345.3},{"c":4.6,"chi2":345.8},{"c":5.1,"chi2":345.1},{"c":5.7,"chi2":345.5},{"c":6.3,"chi2":345.0},{"c":7.0,"chi2":345.4},{"c":3.3,"chi2":344.7},{"c":3.9,"chi2":344.4},{"c":4.5,"chi2":344.9},{"c":5.0,"chi2":344.5},{"c":5.4,"chi2":344.1},{"c":6.0,"chi2":344.6},{"c":6.6,"chi2":344.2},{"c":7.2,"chi2":344.5},{"c":3.6,"chi2":343.8},{"c":4.2,"chi2":343.5},{"c":4.7,"chi2":343.9},{"c":5.3,"chi2":343.4},{"c":5.9,"chi2":343.7},{"c":6.5,"chi2":343.2},{"c":7.1,"chi2":343.6},{"c":7.8,"chi2":343.0},
      {"c":3.2,"chi2":343.3},{"c":3.5,"chi2":342.9},{"c":4.0,"chi2":343.1},{"c":4.4,"chi2":342.6},{"c":4.9,"chi2":342.8},{"c":5.5,"chi2":342.4},{"c":6.0,"chi2":342.9},{"c":6.5,"chi2":342.5},{"c":7.1,"chi2":342.1},{"c":7.6,"chi2":342.7},{"c":8.0,"chi2":341.9},{"c":3.4,"chi2":342.0},{"c":3.9,"chi2":341.7},{"c":4.3,"chi2":341.9},{"c":4.8,"chi2":341.4},{"c":5.2,"chi2":341.8},{"c":5.7,"chi2":341.2},{"c":6.3,"chi2":341.6},{"c":6.8,"chi2":341.0},{"c":7.4,"chi2":341.4},{"c":3.3,"chi2":340.9},{"c":3.7,"chi2":340.5},{"c":4.2,"chi2":340.8},{"c":4.6,"chi2":340.2},{"c":5.0,"chi2":340.7},{"c":5.5,"chi2":340.4},{"c":6.0,"chi2":340.0},{"c":6.4,"chi2":340.6},{"c":7.0,"chi2":340.3},{"c":7.7,"chi2":340.1},{"c":8.4,"chi2":340.8},{"c":9.0,"chi2":340.5},{"c":9.5,"chi2":341.6},{"c":10.0,"chi2":342.0},{"c":10.4,"chi2":340.2},
      {"c":4.0,"chi2":339.5},{"c":4.4,"chi2":339.8},{"c":4.8,"chi2":339.2},{"c":5.1,"chi2":339.6},{"c":5.4,"chi2":339.0},{"c":5.7,"chi2":339.4},{"c":6.0,"chi2":339.8},{"c":6.3,"chi2":339.1},{"c":6.6,"chi2":339.5},{"c":7.0,"chi2":338.9},{"c":7.4,"chi2":339.3},{"c":7.9,"chi2":339.0},{"c":8.3,"chi2":339.6},{"c":4.2,"chi2":338.6},{"c":4.6,"chi2":338.2},{"c":4.9,"chi2":338.7},{"c":5.2,"chi2":338.3},{"c":5.5,"chi2":338.8},{"c":5.8,"chi2":338.1},{"c":6.1,"chi2":338.5},{"c":6.4,"chi2":338.0},{"c":6.7,"chi2":338.6},{"c":7.1,"chi2":338.2},{"c":7.5,"chi2":338.5},{"c":8.0,"chi2":338.0},{"c":8.6,"chi2":338.4},{"c":4.4,"chi2":337.6},{"c":4.8,"chi2":337.3},{"c":5.1,"chi2":337.8},{"c":5.4,"chi2":337.2},{"c":5.7,"chi2":337.6},{"c":6.0,"chi2":337.0},{"c":6.3,"chi2":337.5},{"c":6.6,"chi2":337.1},{"c":6.9,"chi2":337.7},{"c":7.3,"chi2":337.3},{"c":7.7,"chi2":337.0},{"c":8.2,"chi2":337.5},{"c":4.6,"chi2":336.6},{"c":5.0,"chi2":336.2},{"c":5.3,"chi2":336.8},{"c":5.6,"chi2":336.4},{"c":5.9,"chi2":336.0},{"c":6.2,"chi2":336.7},{"c":6.5,"chi2":336.3},{"c":6.8,"chi2":336.8},{"c":7.2,"chi2":336.1},{"c":7.6,"chi2":336.6},{"c":8.0,"chi2":336.2},{"c":4.8,"chi2":335.6},{"c":5.1,"chi2":335.2},{"c":5.4,"chi2":335.7},{"c":5.7,"chi2":335.1},{"c":6.0,"chi2":335.5},{"c":6.3,"chi2":335.0},{"c":6.6,"chi2":335.4},{"c":7.0,"chi2":335.7},{"c":7.4,"chi2":335.2},{"c":7.8,"chi2":335.6},{"c":5.2,"chi2":334.6},{"c":5.5,"chi2":334.2},{"c":5.8,"chi2":334.5},{"c":6.1,"chi2":334.25},{"c":6.4,"chi2":334.4},{"c":6.7,"chi2":334.35},{"c":7.0,"chi2":334.6},{"c":7.4,"chi2":334.45},{"c":7.8,"chi2":334.5},{"c":6.2,"chi2":334.9},{"c":6.9,"chi2":335.0},{"c":5.9,"chi2":336.9},{"c":6.7,"chi2":337.9},{"c":5.3,"chi2":339.9},{"c":7.6,"chi2":339.7},
      {"c":5.0,"chi2":338.0},{"c":5.6,"chi2":337.9},{"c":6.2,"chi2":337.8},{"c":6.8,"chi2":337.4},{"c":5.5,"chi2":336.5},{"c":6.1,"chi2":336.2},{"c":6.5,"chi2":335.8},{"c":5.8,"chi2":335.9},{"c":6.4,"chi2":338.9},{"c":5.9,"chi2":339.3},{"c":6.9,"chi2":339.9},{"c":5.2,"chi2":340.1},{"c":4.7,"chi2":340.9},{"c":6.6,"chi2":340.9},{"c":7.3,"chi2":336.9},{"c":7.1,"chi2":335.3},{"c":5.6,"chi2":334.9},{"c":6.0,"chi2":334.7},{"c":6.8,"chi2":336.0},{"c":5.3,"chi2":337.5},{"c":4.5,"chi2":341.1},{"c":4.1,"chi2":342.3},{"c":3.6,"chi2":341.5},{"c":5.8,"chi2":342.0},{"c":6.9,"chi2":343.9},{"c":4.9,"chi2":344.1},{"c":5.6,"chi2":344.8},{"c":3.9,"chi2":345.9},{"c":6.1,"chi2":347.0},{"c":4.5,"chi2":349.0}
    ],
    "bl_line": [
      {"c":3.05,"chi2":343.4},{"c":3.84,"chi2":339.9},{"c":4.64,"chi2":335.05},{"c":5.44,"chi2":334.07},{"c":7.84,"chi2":334.43},{"c":8.11,"chi2":335.32},{"c":11.31,"chi2":335.8},{"c":11.57,"chi2":336.39},{"c":12.91,"chi2":336.75},{"c":14.77,"chi2":338.09},{"c":14.93,"chi2":339.91},{"c":15.84,"chi2":340.95},{"c":18.24,"chi2":343.05},{"c":21.44,"chi2":343.27},{"c":24.91,"chi2":347.46},{"c":32.11,"chi2":348.45},{"c":35.57,"chi2":348.89},{"c":44.37,"chi2":349.91}
    ],
    "br_pts": [
      {"Rs":0.24,"chi2":349.87},{"Rs":0.4,"chi2":349.7},{"Rs":0.88,"chi2":349.87},{"Rs":1.43,"chi2":349.87},{"Rs":2.07,"chi2":349.87},{"Rs":0.32,"chi2":348.8},{"Rs":0.95,"chi2":348.71},{"Rs":0.88,"chi2":348.63},{"Rs":1.43,"chi2":349.25},{"Rs":1.99,"chi2":349.25},{"Rs":2.15,"chi2":348.98},{"Rs":1.91,"chi2":348.8},{"Rs":2.39,"chi2":349.07},{"Rs":1.43,"chi2":348.27},{"Rs":1.67,"chi2":348.2},{"Rs":1.99,"chi2":348.09},{"Rs":2.55,"chi2":348.27},{"Rs":2.7,"chi2":348.2},{"Rs":3.02,"chi2":347.82},{"Rs":3.42,"chi2":349.25},{"Rs":3.5,"chi2":348.8},{"Rs":3.74,"chi2":348.54},{"Rs":3.66,"chi2":348.27},{"Rs":3.5,"chi2":347.82},{"Rs":3.52,"chi2":347.7},{"Rs":4.46,"chi2":347.73},{"Rs":0.5,"chi2":347.46},{"Rs":0.95,"chi2":346.48},{"Rs":0.95,"chi2":346.3},{"Rs":1.27,"chi2":347.38},{"Rs":1.19,"chi2":347.2},{"Rs":1.91,"chi2":347.2},{"Rs":2.55,"chi2":347.2},{"Rs":1.99,"chi2":346.75},{"Rs":2.47,"chi2":346.57},{"Rs":2.86,"chi2":346.13},{"Rs":3.18,"chi2":346.13},{"Rs":3.42,"chi2":346.75},{"Rs":3.9,"chi2":346.48},{"Rs":3.74,"chi2":345.86},{"Rs":4.22,"chi2":345.95},{"Rs":1.59,"chi2":346.48},{"Rs":1.43,"chi2":345.5},{"Rs":1.99,"chi2":345.77},{"Rs":2.15,"chi2":345.41},{"Rs":2.31,"chi2":345.23},{"Rs":2.55,"chi2":344.88},{"Rs":1.03,"chi2":345.14},{"Rs":0.95,"chi2":344.88},{"Rs":1.03,"chi2":344.34},{"Rs":1.43,"chi2":344.25},{"Rs":1.83,"chi2":344.43},{"Rs":1.99,"chi2":344.16},{"Rs":2.47,"chi2":344.25},{"Rs":2.78,"chi2":344.25},{"Rs":3.26,"chi2":344.25},{"Rs":3.18,"chi2":343.63},{"Rs":1.91,"chi2":344.52},{"Rs":4.22,"chi2":344.7},{"Rs":0.88,"chi2":343.36},{"Rs":1.35,"chi2":343.27},{"Rs":1.43,"chi2":341.84},{"Rs":1.99,"chi2":342.55},{"Rs":1.91,"chi2":341.75},{"Rs":1.99,"chi2":341.57},{"Rs":2.55,"chi2":342.82},{"Rs":2.55,"chi2":342.29},{"Rs":2.7,"chi2":341.84},{"Rs":2.55,"chi2":341.39},{"Rs":2.78,"chi2":341.3},{"Rs":3.02,"chi2":341.48},{"Rs":3.18,"chi2":341.2},{"Rs":3.34,"chi2":342.02},{"Rs":3.5,"chi2":340.95},{"Rs":3.9,"chi2":342.02},{"Rs":2.78,"chi2":342.91},{"Rs":3.1,"chi2":341.0},{"Rs":2.39,"chi2":340.5},{"Rs":2.55,"chi2":340.32},{"Rs":2.7,"chi2":340.23},{"Rs":2.86,"chi2":340.23},{"Rs":2.63,"chi2":339.88},{"Rs":2.47,"chi2":339.52},{"Rs":2.78,"chi2":339.52},{"Rs":3.02,"chi2":339.7},{"Rs":2.78,"chi2":339.16},{"Rs":2.94,"chi2":338.63},{"Rs":2.86,"chi2":338.27},{"Rs":2.55,"chi2":338.27},{"Rs":3.58,"chi2":338.45},{"Rs":3.74,"chi2":337.91},{"Rs":3.02,"chi2":337.2},{"Rs":2.63,"chi2":336.7},{"Rs":4.14,"chi2":339.16},
      {"Rs":5.25,"chi2":346.93},{"Rs":5.49,"chi2":349.16},{"Rs":5.65,"chi2":349.79},{"Rs":5.97,"chi2":348.0},{"Rs":5.97,"chi2":347.02},{"Rs":6.21,"chi2":348.2},{"Rs":6.92,"chi2":348.89},{"Rs":6.92,"chi2":348.2},{"Rs":7.48,"chi2":348.36},{"Rs":7.08,"chi2":347.11},{"Rs":7.4,"chi2":347.29},{"Rs":6.84,"chi2":347.02},{"Rs":7.08,"chi2":346.57},{"Rs":7.16,"chi2":346.3},{"Rs":7.56,"chi2":346.75},{"Rs":5.73,"chi2":345.77},{"Rs":6.6,"chi2":345.77},{"Rs":5.89,"chi2":344.61},{"Rs":6.6,"chi2":344.79},{"Rs":6.13,"chi2":343.27},{"Rs":5.89,"chi2":342.91},{"Rs":6.28,"chi2":342.38},{"Rs":7.0,"chi2":342.46},{"Rs":7.24,"chi2":342.82},{"Rs":7.4,"chi2":341.66},{"Rs":5.01,"chi2":343.0},{"Rs":5.17,"chi2":341.84},{"Rs":5.41,"chi2":341.21},{"Rs":6.44,"chi2":341.13},{"Rs":5.49,"chi2":340.59},{"Rs":5.65,"chi2":339.61},{"Rs":6.52,"chi2":339.16},{"Rs":6.92,"chi2":339.7},{"Rs":7.4,"chi2":340.32},{"Rs":5.73,"chi2":338.0},{"Rs":5.73,"chi2":337.29},{"Rs":5.89,"chi2":336.93},{"Rs":6.21,"chi2":336.93},{"Rs":6.6,"chi2":338.27},{"Rs":7.0,"chi2":337.64},{"Rs":7.24,"chi2":337.38},{"Rs":7.24,"chi2":338.71},{"Rs":7.56,"chi2":338.27},{"Rs":7.72,"chi2":337.02},{"Rs":7.56,"chi2":336.48},{"Rs":7.48,"chi2":336.66},{"Rs":7.8,"chi2":336.39},{"Rs":7.88,"chi2":335.77},{"Rs":7.88,"chi2":334.52},{"Rs":8.59,"chi2":335.68},{"Rs":8.99,"chi2":334.79},{"Rs":7.45,"chi2":340.6},{"Rs":6.44,"chi2":338.27},
      {"Rs":7.91,"chi2":349.87},{"Rs":7.88,"chi2":348.98},{"Rs":7.94,"chi2":348.45},{"Rs":7.91,"chi2":346.66},{"Rs":7.88,"chi2":346.48},{"Rs":7.94,"chi2":345.23},{"Rs":7.91,"chi2":344.16},{"Rs":7.88,"chi2":343.98},{"Rs":7.94,"chi2":343.8},{"Rs":7.91,"chi2":343.54},{"Rs":7.88,"chi2":343.27},{"Rs":7.94,"chi2":343.09},{"Rs":7.91,"chi2":342.91},{"Rs":7.88,"chi2":342.55},{"Rs":7.94,"chi2":342.2},{"Rs":7.91,"chi2":342.02},{"Rs":7.88,"chi2":341.84},{"Rs":7.94,"chi2":341.66},{"Rs":7.91,"chi2":341.48},{"Rs":7.88,"chi2":340.41},{"Rs":7.94,"chi2":340.23},{"Rs":7.91,"chi2":340.05},{"Rs":7.88,"chi2":339.88},{"Rs":7.94,"chi2":339.7},{"Rs":7.91,"chi2":339.52},{"Rs":7.88,"chi2":339.16},{"Rs":7.94,"chi2":338.8},{"Rs":7.91,"chi2":338.63},{"Rs":7.88,"chi2":338.45},{"Rs":7.94,"chi2":338.27},{"Rs":7.91,"chi2":338.09},{"Rs":7.88,"chi2":337.73},{"Rs":7.94,"chi2":337.55},{"Rs":7.91,"chi2":337.2},{"Rs":7.88,"chi2":336.84},{"Rs":7.94,"chi2":336.48},{"Rs":7.91,"chi2":335.77},{"Rs":7.91,"chi2":334.88},{"Rs":7.91,"chi2":334.43},{"Rs":8.19,"chi2":349.87},
      {"Rs":9.15,"chi2":349.34},{"Rs":8.91,"chi2":347.55},{"Rs":8.67,"chi2":347.38},{"Rs":8.59,"chi2":346.39},{"Rs":8.75,"chi2":345.59},{"Rs":8.99,"chi2":346.04},{"Rs":9.55,"chi2":346.39},{"Rs":9.31,"chi2":344.25},{"Rs":9.79,"chi2":344.52},{"Rs":9.71,"chi2":345.41},{"Rs":10.02,"chi2":345.14},{"Rs":10.18,"chi2":343.63},{"Rs":10.26,"chi2":343.45},{"Rs":10.58,"chi2":342.64},{"Rs":10.02,"chi2":342.38},{"Rs":10.9,"chi2":341.84},{"Rs":11.06,"chi2":341.04},{"Rs":11.22,"chi2":340.86},{"Rs":10.1,"chi2":341.3},{"Rs":9.31,"chi2":341.3},{"Rs":8.99,"chi2":339.96},{"Rs":8.51,"chi2":339.25},{"Rs":9.31,"chi2":338.71},{"Rs":9.15,"chi2":338.27},{"Rs":9.23,"chi2":337.29},{"Rs":9.15,"chi2":337.2},{"Rs":9.63,"chi2":338.27},{"Rs":9.79,"chi2":338.27},{"Rs":10.02,"chi2":339.7},{"Rs":10.26,"chi2":339.43},{"Rs":10.5,"chi2":339.61},{"Rs":10.58,"chi2":338.8},{"Rs":10.42,"chi2":338.27},{"Rs":10.1,"chi2":338.09},{"Rs":9.94,"chi2":339.16},{"Rs":8.99,"chi2":335.77},{"Rs":9.15,"chi2":336.3},{"Rs":9.31,"chi2":336.04},{"Rs":9.15,"chi2":335.32},{"Rs":9.39,"chi2":335.41},{"Rs":9.94,"chi2":335.32},{"Rs":10.26,"chi2":334.88},{"Rs":10.42,"chi2":335.23},{"Rs":10.58,"chi2":334.79},{"Rs":10.9,"chi2":334.7},{"Rs":11.22,"chi2":334.7},{"Rs":10.74,"chi2":335.77},{"Rs":11.22,"chi2":336.13},{"Rs":10.98,"chi2":336.57},{"Rs":11.46,"chi2":336.3},{"Rs":11.69,"chi2":336.84},{"Rs":11.93,"chi2":336.84},{"Rs":12.33,"chi2":336.3},{"Rs":12.73,"chi2":336.84},{"Rs":12.65,"chi2":337.11},{"Rs":12.73,"chi2":336.66},{"Rs":13.13,"chi2":336.21},{"Rs":12.25,"chi2":335.23},{"Rs":12.65,"chi2":335.27},{"Rs":12.41,"chi2":338.27},{"Rs":12.33,"chi2":339.16},{"Rs":12.49,"chi2":339.79},{"Rs":12.81,"chi2":339.52},{"Rs":13.13,"chi2":339.34},{"Rs":13.05,"chi2":338.89},{"Rs":13.44,"chi2":338.36},{"Rs":13.6,"chi2":338.45},{"Rs":13.21,"chi2":337.73},{"Rs":13.6,"chi2":337.2},{"Rs":13.76,"chi2":337.38},{"Rs":14.0,"chi2":337.11},{"Rs":14.08,"chi2":336.66},{"Rs":14.24,"chi2":337.73},{"Rs":13.76,"chi2":338.27},{"Rs":13.92,"chi2":336.3},{"Rs":14.0,"chi2":335.95},{"Rs":14.08,"chi2":335.23},{"Rs":13.84,"chi2":334.43},{"Rs":14.4,"chi2":335.05},{"Rs":14.72,"chi2":334.52},{"Rs":14.64,"chi2":335.59},{"Rs":14.96,"chi2":335.68},{"Rs":15.27,"chi2":335.77},{"Rs":15.12,"chi2":336.84},{"Rs":14.96,"chi2":336.3},{"Rs":14.56,"chi2":337.46},{"Rs":14.8,"chi2":337.73},{"Rs":14.96,"chi2":338.27},{"Rs":14.48,"chi2":338.71},{"Rs":14.56,"chi2":339.43},{"Rs":14.72,"chi2":339.79},{"Rs":15.12,"chi2":339.34},{"Rs":15.35,"chi2":338.98},{"Rs":15.51,"chi2":338.8},{"Rs":15.27,"chi2":339.96},{"Rs":15.67,"chi2":340.05},{"Rs":15.83,"chi2":340.68},{"Rs":15.91,"chi2":340.86},{"Rs":16.15,"chi2":339.7},{"Rs":16.23,"chi2":339.43},{"Rs":15.83,"chi2":339.16},{"Rs":16.15,"chi2":338.63},{"Rs":16.47,"chi2":339.88},{"Rs":16.47,"chi2":338.27},{"Rs":16.15,"chi2":337.73},{"Rs":16.39,"chi2":337.55},{"Rs":16.23,"chi2":337.38},{"Rs":16.63,"chi2":337.46},{"Rs":16.79,"chi2":338.36},{"Rs":16.63,"chi2":337.02},{"Rs":16.63,"chi2":336.48},{"Rs":17.1,"chi2":336.93},{"Rs":17.18,"chi2":337.38},{"Rs":17.5,"chi2":337.02},{"Rs":17.34,"chi2":336.75},{"Rs":17.58,"chi2":336.3},{"Rs":17.74,"chi2":336.48},{"Rs":17.82,"chi2":335.41},{"Rs":17.58,"chi2":335.32},{"Rs":17.42,"chi2":335.05},{"Rs":17.82,"chi2":338.27},{"Rs":17.9,"chi2":338.63},{"Rs":17.74,"chi2":339.16},{"Rs":18.06,"chi2":339.25},{"Rs":18.38,"chi2":338.45},{"Rs":18.54,"chi2":338.63},{"Rs":18.85,"chi2":338.27},{"Rs":19.41,"chi2":338.27},{"Rs":18.54,"chi2":337.38},{"Rs":18.77,"chi2":336.93},{"Rs":18.85,"chi2":336.48},{"Rs":18.7,"chi2":336.3},{"Rs":18.62,"chi2":335.86},{"Rs":18.93,"chi2":337.02},{"Rs":18.06,"chi2":342.02},{"Rs":17.74,"chi2":341.84},{"Rs":17.9,"chi2":341.66},{"Rs":17.58,"chi2":341.57},{"Rs":18.14,"chi2":341.39},{"Rs":19.01,"chi2":342.2},{"Rs":18.93,"chi2":341.04},{"Rs":18.14,"chi2":348.45},{"Rs":16.71,"chi2":348.45},{"Rs":17.02,"chi2":348.0},{"Rs":17.66,"chi2":347.29},{"Rs":19.33,"chi2":349.43},{"Rs":16.31,"chi2":346.48},{"Rs":15.83,"chi2":345.23},{"Rs":15.35,"chi2":344.88},{"Rs":14.88,"chi2":344.61},{"Rs":14.56,"chi2":345.14},{"Rs":14.0,"chi2":345.41},{"Rs":14.0,"chi2":345.95},{"Rs":13.68,"chi2":345.32},{"Rs":13.6,"chi2":344.25},{"Rs":13.21,"chi2":343.0},{"Rs":13.6,"chi2":342.46},{"Rs":14.08,"chi2":342.46},{"Rs":14.4,"chi2":342.46},{"Rs":14.72,"chi2":343.0},{"Rs":14.88,"chi2":342.38},{"Rs":15.12,"chi2":342.46},{"Rs":15.51,"chi2":342.29},{"Rs":15.27,"chi2":342.11},{"Rs":15.59,"chi2":341.84},{"Rs":15.83,"chi2":343.63},{"Rs":16.39,"chi2":341.93},{"Rs":16.55,"chi2":342.46},{"Rs":16.79,"chi2":343.27},{"Rs":16.15,"chi2":342.29},{"Rs":13.29,"chi2":341.57},{"Rs":12.89,"chi2":341.48},{"Rs":13.21,"chi2":341.66},{"Rs":12.89,"chi2":342.46},{"Rs":12.73,"chi2":341.75},{"Rs":12.17,"chi2":342.29},{"Rs":11.69,"chi2":340.59},{"Rs":12.01,"chi2":340.59},{"Rs":12.33,"chi2":340.5},{"Rs":12.81,"chi2":340.32},{"Rs":13.13,"chi2":340.32},{"Rs":12.81,"chi2":339.79},{"Rs":13.21,"chi2":339.43},{"Rs":13.6,"chi2":339.43},{"Rs":13.44,"chi2":339.16},{"Rs":14.0,"chi2":340.86},{"Rs":14.24,"chi2":340.95},{"Rs":14.0,"chi2":340.5},{"Rs":14.08,"chi2":340.23},{"Rs":14.08,"chi2":339.88},{"Rs":14.96,"chi2":340.95},{"Rs":15.19,"chi2":340.86},{"Rs":14.8,"chi2":340.14},{"Rs":14.88,"chi2":339.88},{"Rs":15.12,"chi2":339.61},{"Rs":15.51,"chi2":340.59},{"Rs":11.46,"chi2":339.25},{"Rs":11.85,"chi2":339.25},{"Rs":12.09,"chi2":338.98},{"Rs":11.93,"chi2":338.8},{"Rs":11.38,"chi2":337.91},{"Rs":11.85,"chi2":338.09},{"Rs":11.38,"chi2":337.7},{"Rs":12.33,"chi2":338.09},{"Rs":12.49,"chi2":340.05},{"Rs":12.89,"chi2":343.09},{"Rs":13.6,"chi2":342.91},{"Rs":11.46,"chi2":343.09},{"Rs":11.46,"chi2":343.71},{"Rs":11.77,"chi2":343.71},{"Rs":11.46,"chi2":345.77},{"Rs":11.93,"chi2":346.21},{"Rs":11.85,"chi2":345.95},{"Rs":10.82,"chi2":346.48},{"Rs":11.3,"chi2":341.48},{"Rs":10.5,"chi2":341.21},{"Rs":10.98,"chi2":341.84},{"Rs":10.02,"chi2":343.45},{"Rs":9.23,"chi2":341.3},{"Rs":12.49,"chi2":347.11},{"Rs":13.21,"chi2":346.84},{"Rs":13.37,"chi2":349.07},{"Rs":13.68,"chi2":349.61},{"Rs":14.56,"chi2":349.16},{"Rs":15.12,"chi2":348.27},{"Rs":15.91,"chi2":349.7},{"Rs":16.63,"chi2":348.36},{"Rs":10.98,"chi2":349.34},{"Rs":12.65,"chi2":342.55},{"Rs":13.05,"chi2":342.55},{"Rs":15.75,"chi2":349.9},{"Rs":18.14,"chi2":342.11},{"Rs":17.82,"chi2":342.02},
      {"Rs":19.89,"chi2":347.91},{"Rs":19.89,"chi2":347.29},{"Rs":19.89,"chi2":346.48},{"Rs":19.89,"chi2":345.59},{"Rs":19.89,"chi2":345.23},{"Rs":19.89,"chi2":343.89},{"Rs":19.89,"chi2":342.91},{"Rs":19.89,"chi2":342.55},{"Rs":19.89,"chi2":342.02},{"Rs":19.89,"chi2":341.48},{"Rs":19.89,"chi2":340.05},{"Rs":19.89,"chi2":339.88},{"Rs":19.89,"chi2":339.34},{"Rs":19.89,"chi2":338.71},{"Rs":19.89,"chi2":338.45},{"Rs":19.89,"chi2":338.27},{"Rs":19.89,"chi2":337.2},{"Rs":19.89,"chi2":336.84},{"Rs":19.89,"chi2":336.3},{"Rs":19.89,"chi2":335.23},{"Rs":19.89,"chi2":334.96},{"Rs":19.65,"chi2":343.89},{"Rs":19.73,"chi2":342.55}
    ],
    "br_line": [
      {"Rs":0.16,"chi2":349.88},{"Rs":0.32,"chi2":348.63},{"Rs":0.88,"chi2":343.09},{"Rs":1.35,"chi2":340.95},{"Rs":1.83,"chi2":340.05},{"Rs":2.07,"chi2":338.09},{"Rs":2.55,"chi2":336.66},{"Rs":2.94,"chi2":336.39},{"Rs":3.42,"chi2":335.86},{"Rs":5.49,"chi2":335.5},{"Rs":6.92,"chi2":335.27},{"Rs":7.88,"chi2":334.43},{"Rs":9.79,"chi2":334.25},{"Rs":12.01,"chi2":334.13},{"Rs":16.95,"chi2":334.13},{"Rs":17.58,"chi2":334.48},{"Rs":20.0,"chi2":334.87}
    ]
  },
  "concat": [
    {
      "width": 419,
      "height": 373,
      "encoding": {
        "x": {"field": "ML", "type": "quantitative", "scale": {"domain": [0.02, 5], "nice": false, "zero": false},
          "axis": {"values": [1, 2, 3, 4, 5], "title": "M/L", "titleFontStyle": "italic", "titleFontSize": 33, "titleY": 68, "titleBaseline": "alphabetic"}},
        "y": {"field": "chi2", "type": "quantitative", "scale": {"domain": [330, 350], "nice": false, "zero": false},
          "axis": {"values": [330, 335, 340, 345, 350], "title": "χ²", "titleFontSize": 42, "titleFontStyle": "italic", "titleX": -33, "titleY": 425, "titleAngle": 270, "titleAlign": "center", "titleBaseline": "middle"}}
      },
      "layer": [
        {"data": {"name": "tl_pts"}, "mark": {"type": "point", "shape": "M-1,-1L1,1M-1,1L1,-1", "filled": false, "stroke": "#1f77b4", "strokeWidth": 1.3, "size": 72, "opacity": 1, "clip": true}},
        {"data": {"name": "tl_line"}, "mark": {"type": "line", "color": "red", "strokeDash": [10, 4.5], "strokeWidth": 2.5, "clip": true}}
      ]
    },
    {
      "width": 419,
      "height": 373,
      "encoding": {
        "y": {"field": "chi2", "type": "quantitative", "scale": {"domain": [330, 350], "nice": false, "zero": false},
          "axis": {"values": [330, 335, 340, 345, 350], "labels": false, "title": null}}
      },
      "layer": [
        {"data": {"name": "tr_pts"}, "mark": {"type": "point", "shape": "M-1,-1L1,1M-1,1L1,-1", "filled": false, "stroke": "#1f77b4", "strokeWidth": 1.3, "size": 72, "opacity": 1, "clip": true},
          "encoding": {"x": {"field": "MBH", "type": "quantitative", "scale": {"domain": [0, 8], "nice": false, "zero": false},
            "axis": {"values": [0, 2, 4, 6, 8], "title": "M", "titleFontStyle": "italic", "titleFontSize": 33, "titleX": 192, "titleY": 68, "titleAlign": "center", "titleBaseline": "alphabetic"}}}},
        {"data": {"name": "tr_line"}, "mark": {"type": "line", "color": "red", "strokeDash": [10, 4.5], "strokeWidth": 2.5, "clip": true},
          "encoding": {"x": {"field": "MBH", "type": "quantitative", "scale": {"domain": [0, 8], "nice": false, "zero": false},
            "axis": {"orient": "bottom", "domain": false, "ticks": false, "labels": false, "title": "×10⁶", "titleFontSize": 31, "titleX": 418, "titleY": 62, "titleAlign": "right", "titleBaseline": "alphabetic"}}}},
        {"data": {"name": "tr_line"}, "mark": {"type": "point", "opacity": 0},
          "encoding": {"x": {"field": "MBH", "type": "quantitative", "scale": {"domain": [0, 8], "nice": false, "zero": false},
            "axis": {"orient": "bottom", "domain": false, "ticks": false, "labels": false, "title": "BH", "titleFontSize": 24, "titleX": 208, "titleY": 69, "titleAlign": "left", "titleBaseline": "alphabetic"}}}}
      ],
      "resolve": {"axis": {"x": "independent"}}
    },
    {
      "width": 419,
      "height": 373,
      "encoding": {
        "x": {"field": "c", "type": "quantitative", "scale": {"domain": [3, 70], "nice": false, "zero": false},
          "axis": {"values": [20, 40, 60], "title": "c", "titleFontStyle": "italic", "titleFontSize": 33, "titleY": 65, "titleBaseline": "alphabetic"}},
        "y": {"field": "chi2", "type": "quantitative", "scale": {"domain": [330, 350], "nice": false, "zero": false},
          "axis": {"values": [330, 335, 340, 345, 350], "title": null}}
      },
      "layer": [
        {"data": {"name": "bl_pts"}, "mark": {"type": "point", "shape": "M-1,-1L1,1M-1,1L1,-1", "filled": false, "stroke": "#1f77b4", "strokeWidth": 1.3, "size": 72, "opacity": 1, "clip": true}},
        {"data": {"name": "bl_line"}, "mark": {"type": "line", "color": "red", "strokeDash": [10, 4.5], "strokeWidth": 2.5, "clip": true}}
      ]
    },
    {
      "width": 419,
      "height": 373,
      "encoding": {
        "y": {"field": "chi2", "type": "quantitative", "scale": {"domain": [330, 350], "nice": false, "zero": false},
          "axis": {"values": [330, 335, 340, 345, 350], "labels": false, "title": null}}
      },
      "layer": [
        {"data": {"name": "br_pts"}, "mark": {"type": "point", "shape": "M-1,-1L1,1M-1,1L1,-1", "filled": false, "stroke": "#1f77b4", "strokeWidth": 1.3, "size": 72, "opacity": 1, "clip": true},
          "encoding": {"x": {"field": "Rs", "type": "quantitative", "scale": {"domain": [0.02, 20], "nice": false, "zero": false},
            "axis": {"values": [5, 10, 15, 20], "title": "R", "titleFontStyle": "italic", "titleFontSize": 33, "titleX": 206, "titleY": 65, "titleAlign": "center", "titleBaseline": "alphabetic"}}}},
        {"data": {"name": "br_line"}, "mark": {"type": "line", "color": "red", "strokeDash": [10, 4.5], "strokeWidth": 2.5, "clip": true},
          "encoding": {"x": {"field": "Rs", "type": "quantitative", "scale": {"domain": [0.02, 20], "nice": false, "zero": false},
            "axis": {"orient": "bottom", "domain": false, "ticks": false, "labels": false, "title": "s", "titleFontStyle": "italic", "titleFontSize": 24, "titleX": 217, "titleY": 69, "titleAlign": "left", "titleBaseline": "alphabetic"}}}}
      ],
      "resolve": {"axis": {"x": "independent"}}
    }
  ]
}
